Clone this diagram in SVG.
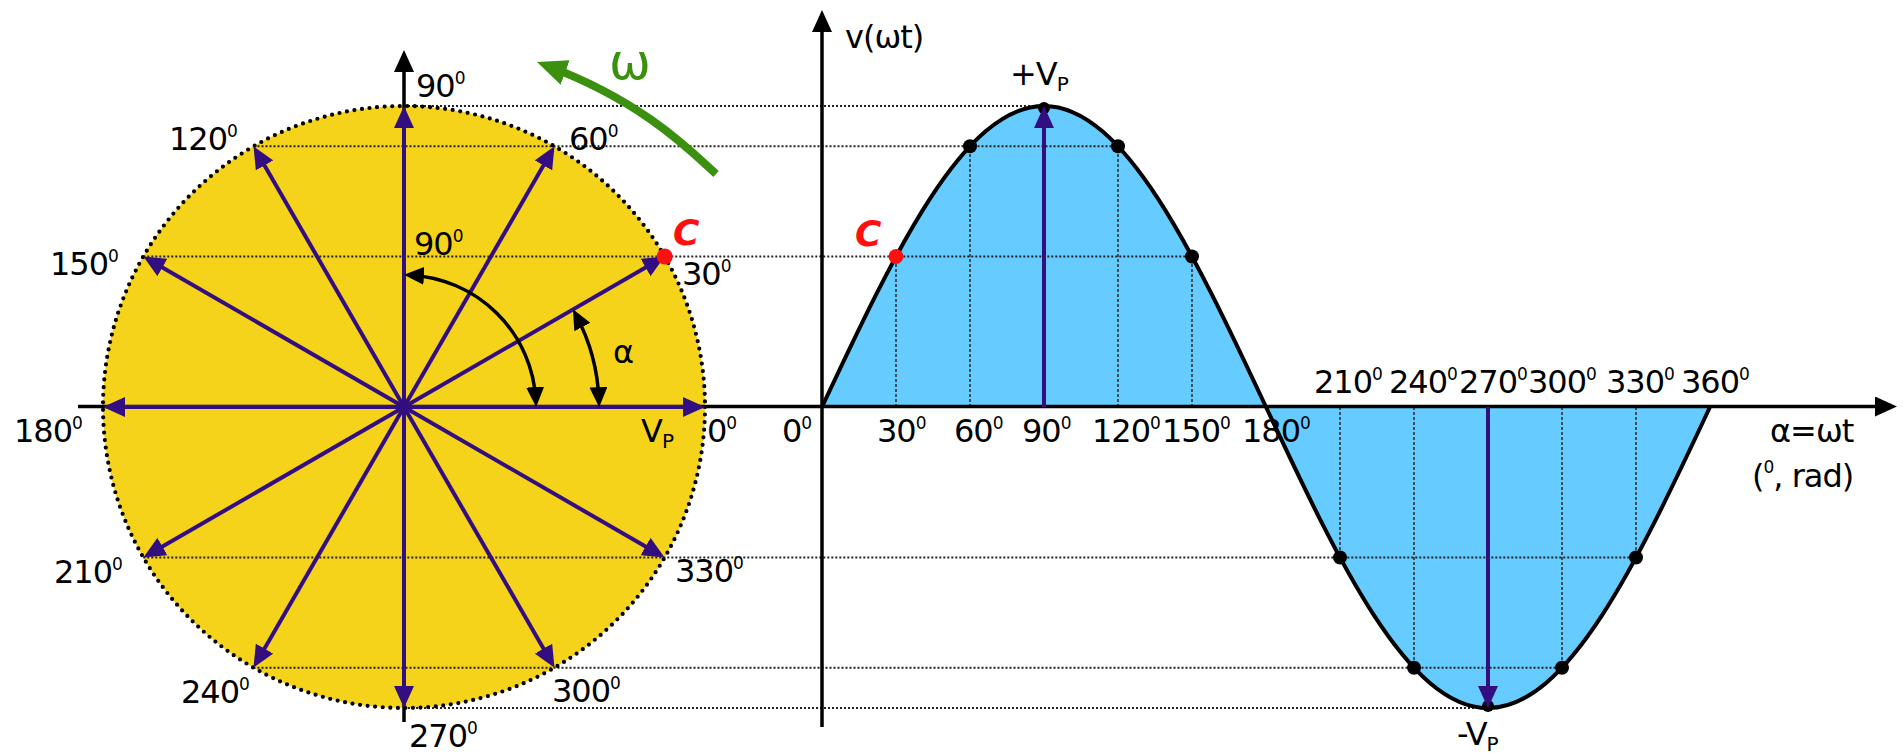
<svg xmlns="http://www.w3.org/2000/svg" width="1903" height="755" viewBox="0 0 1903 755">
<style>
.lbl{font-family:"DejaVu Sans","Liberation Sans",sans-serif;font-size:32px;fill:#000;letter-spacing:-1px}
.sup{font-size:17px}
.sub{font-size:20px}
.guide{stroke:#222;stroke-width:2;stroke-dasharray:2 2;fill:none}
.vguide{stroke:#333;stroke-width:1.6;stroke-dasharray:3 2;fill:none}
.ph{stroke:#330E80;stroke-width:4;fill:none;marker-end:url(#hp)}
.axis{stroke:#000;stroke-width:3.5;fill:none;marker-end:url(#hk)}
.arc{stroke:#000;stroke-width:3.5;fill:none;marker-start:url(#ha);marker-end:url(#ha)}
.dot{fill:#000}
.red{font-family:"DejaVu Sans","Liberation Sans",sans-serif;font-size:36px;font-weight:bold;font-style:italic;fill:#FF1010}
</style>
<defs>
<marker id="hp" markerUnits="userSpaceOnUse" markerWidth="22" markerHeight="20" viewBox="0 0 22 20" refX="14" refY="10" orient="auto"><path d="M0,0 L22,10 L0,20 Z" fill="#330E80"/></marker>
<marker id="hk" markerUnits="userSpaceOnUse" markerWidth="22" markerHeight="20" viewBox="0 0 22 20" refX="14" refY="10" orient="auto"><path d="M0,0 L22,10 L0,20 Z" fill="#000"/></marker>
<marker id="ha" markerUnits="userSpaceOnUse" markerWidth="20" markerHeight="18" viewBox="0 0 20 18" refX="13" refY="9" orient="auto-start-reverse"><path d="M0,0 L20,9 L0,18 Z" fill="#000"/></marker>
<marker id="hg" markerUnits="userSpaceOnUse" markerWidth="30" markerHeight="26" viewBox="0 0 30 26" refX="20" refY="13" orient="auto"><path d="M0,0 L30,13 L0,26 Z" fill="#3C9010"/></marker>
</defs>
<rect x="0" y="0" width="1903" height="755" fill="#fff"/>

<g id="phasor-circle-fill">
<circle cx="404" cy="407" r="301" fill="#F6D31B"/>
</g>
<g id="sine-fill">
<path d="M822,407 C894.4,252.8 963.7,106 1044,106 C1124.3,106 1193.6,252.8 1266,407 C1338.4,561.2 1407.7,708 1488,708 C1568.3,708 1637.6,561.2 1710,407 Z" fill="#66CCFF"/>
</g>

<g id="guides">
<line class="guide" x1="404" y1="106" x2="1044" y2="106"/>
<line class="guide" x1="253.5" y1="146.3" x2="1118" y2="146.3"/>
<line class="guide" x1="143.3" y1="256.5" x2="1192" y2="256.5"/>
<line class="guide" x1="143.3" y1="557.5" x2="1636" y2="557.5"/>
<line class="guide" x1="253.5" y1="667.7" x2="1562" y2="667.7"/>
<line class="guide" x1="404" y1="708" x2="1488" y2="708"/>
<line class="vguide" x1="896" y1="407" x2="896" y2="256.5"/>
<line class="vguide" x1="970" y1="407" x2="970" y2="146.3"/>
<line class="vguide" x1="1118" y1="407" x2="1118" y2="146.3"/>
<line class="vguide" x1="1192" y1="407" x2="1192" y2="256.5"/>
<line class="vguide" x1="1340" y1="407" x2="1340" y2="557.5"/>
<line class="vguide" x1="1414" y1="407" x2="1414" y2="667.7"/>
<line class="vguide" x1="1562" y1="407" x2="1562" y2="667.7"/>
<line class="vguide" x1="1636" y1="407" x2="1636" y2="557.5"/>
</g>

<g id="phasor-circle-outline">
<circle cx="404" cy="407" r="301" fill="none" stroke="#000" stroke-width="4.2" stroke-dasharray="0 7.6" stroke-linecap="round"/>
</g>

<g id="connectors">
<line class="axis" x1="78" y1="406.5" x2="1889" y2="406.5"/>
<line class="axis" x1="404" y1="722" x2="404" y2="58"/>
<line class="axis" x1="822" y1="727" x2="822" y2="18"/>
<line class="ph" x1="404" y1="407" x2="697" y2="407"/>
<line class="ph" x1="404" y1="407" x2="657.7" y2="260.5"/>
<line class="ph" x1="404" y1="407" x2="550.5" y2="153.3"/>
<line class="ph" x1="404" y1="407" x2="404" y2="114"/>
<line class="ph" x1="404" y1="407" x2="257.5" y2="153.3"/>
<line class="ph" x1="404" y1="407" x2="150.3" y2="260.5"/>
<line class="ph" x1="404" y1="407" x2="111" y2="407"/>
<line class="ph" x1="404" y1="407" x2="150.3" y2="553.5"/>
<line class="ph" x1="404" y1="407" x2="257.5" y2="660.7"/>
<line class="ph" x1="404" y1="407" x2="404" y2="700"/>
<line class="ph" x1="404" y1="407" x2="550.5" y2="660.7"/>
<line class="ph" x1="404" y1="407" x2="657.7" y2="553.5"/>
<path class="arc" d="M535.8,400.1 A132,132 0 0 0 410.9,275.2"/>
<path class="arc" d="M598.9,400.2 A195,195 0 0 0 576.2,315.5"/>
<path d="M716,174 C690,150 642,101 546.4,65.5" fill="none" stroke="#3C9010" stroke-width="8" marker-end="url(#hg)"/>
</g>

<g id="sine-graph">
<path d="M822,407 C894.4,252.8 963.7,106 1044,106 C1124.3,106 1193.6,252.8 1266,407 C1338.4,561.2 1407.7,708 1488,708 C1568.3,708 1637.6,561.2 1710,407" fill="none" stroke="#000" stroke-width="4"/>
<circle class="dot" cx="970" cy="146.3" r="7"/>
<circle class="dot" cx="1118" cy="146.3" r="7"/>
<circle class="dot" cx="1192" cy="256.5" r="7"/>
<circle class="dot" cx="1340" cy="557.5" r="7"/>
<circle class="dot" cx="1414" cy="667.7" r="7"/>
<circle class="dot" cx="1562" cy="667.7" r="7"/>
<circle class="dot" cx="1636" cy="557.5" r="7"/>
<circle class="dot" cx="1044" cy="108" r="6"/>
<circle class="dot" cx="1488" cy="706" r="6"/>
<line class="ph" x1="1044" y1="407" x2="1044" y2="114"/>
<line class="ph" x1="1488" y1="407" x2="1488" y2="700"/>
<circle cx="896" cy="256.5" r="7.5" fill="#FF1010"/>
<circle cx="664.7" cy="256.5" r="8" fill="#FF1010"/>
</g>

<g id="circle-labels">
<text class="lbl" x="416" y="97">90<tspan class="sup" dy="-13">0</tspan></text>
<text class="lbl" x="169" y="150">120<tspan class="sup" dy="-13">0</tspan></text>
<text class="lbl" x="569" y="150">60<tspan class="sup" dy="-13">0</tspan></text>
<text class="lbl" x="50" y="275">150<tspan class="sup" dy="-13">0</tspan></text>
<text class="lbl" x="414" y="255">90<tspan class="sup" dy="-13">0</tspan></text>
<text class="lbl" x="682" y="285">30<tspan class="sup" dy="-13">0</tspan></text>
<text class="lbl" x="14" y="442">180<tspan class="sup" dy="-13">0</tspan></text>
<text class="lbl" x="707" y="442">0<tspan class="sup" dy="-13">0</tspan></text>
<text class="lbl" x="641" y="442">V<tspan class="sub" dy="6">P</tspan></text>
<text class="lbl" x="613" y="363" font-size="34">α</text>
<text class="lbl" x="54" y="583">210<tspan class="sup" dy="-13">0</tspan></text>
<text class="lbl" x="675" y="582">330<tspan class="sup" dy="-13">0</tspan></text>
<text class="lbl" x="181" y="703">240<tspan class="sup" dy="-13">0</tspan></text>
<text class="lbl" x="552" y="702">300<tspan class="sup" dy="-13">0</tspan></text>
<text class="lbl" x="409" y="747">270<tspan class="sup" dy="-13">0</tspan></text>
<text class="red" x="673" y="245">C</text>
<text x="609" y="79" font-family="DejaVu Sans, sans-serif" font-size="50" fill="#3C9010">ω</text>
</g>

<g id="sine-labels">
<text class="lbl" x="782" y="442">0<tspan class="sup" dy="-13">0</tspan></text>
<text class="lbl" x="877" y="442">30<tspan class="sup" dy="-13">0</tspan></text>
<text class="lbl" x="954" y="442">60<tspan class="sup" dy="-13">0</tspan></text>
<text class="lbl" x="1022" y="442">90<tspan class="sup" dy="-13">0</tspan></text>
<text class="lbl" x="1092" y="442">120<tspan class="sup" dy="-13">0</tspan></text>
<text class="lbl" x="1162" y="442">150<tspan class="sup" dy="-13">0</tspan></text>
<text class="lbl" x="1242" y="442">180<tspan class="sup" dy="-13">0</tspan></text>
<text class="lbl" x="1314" y="393">210<tspan class="sup" dy="-13">0</tspan></text>
<text class="lbl" x="1389" y="393">240<tspan class="sup" dy="-13">0</tspan></text>
<text class="lbl" x="1459" y="393">270<tspan class="sup" dy="-13">0</tspan></text>
<text class="lbl" x="1528" y="393">300<tspan class="sup" dy="-13">0</tspan></text>
<text class="lbl" x="1606" y="393">330<tspan class="sup" dy="-13">0</tspan></text>
<text class="lbl" x="1681" y="393">360<tspan class="sup" dy="-13">0</tspan></text>
<text class="lbl" x="1770" y="442" font-size="26" letter-spacing="0">α=ωt</text>
<text class="lbl" x="1752" y="487" font-size="30" letter-spacing="0">(<tspan class="sup" dy="-14">0</tspan><tspan dy="14">, rad)</tspan></text>
<text class="lbl" x="845" y="48" letter-spacing="0">v(ωt)</text>
<text class="lbl" x="1010" y="85">+V<tspan class="sub" dy="6">P</tspan></text>
<text class="lbl" x="1457" y="745">-V<tspan class="sub" dy="6">P</tspan></text>
<text class="red" x="855" y="246">C</text>
</g>
</svg>
